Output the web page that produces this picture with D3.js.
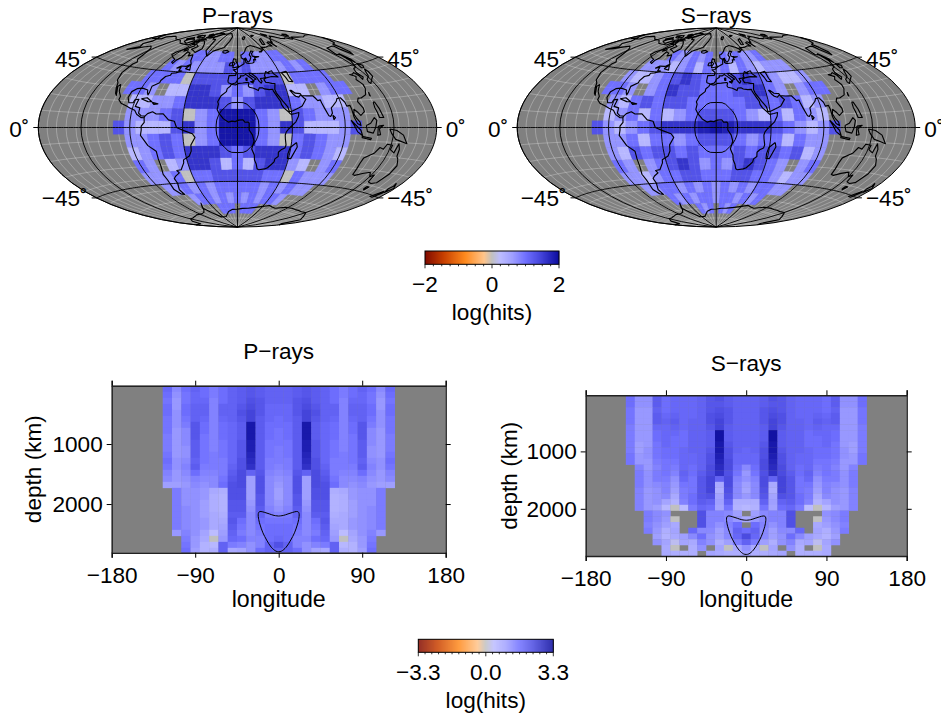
<!DOCTYPE html>
<html><head><meta charset="utf-8">
<script src="https://cdn.jsdelivr.net/npm/d3@7"></script>
<style>html,body{margin:0;padding:0;background:#fff;overflow:hidden}svg{display:block}text{font-family:"Liberation Sans",Arial,sans-serif;fill:#000}</style>
</head><body><svg id="c" width="941" height="717"></svg>
<script>
const _ = null;
// Map hit counts, log10, rows run north to south, each row centred on lon 0 with 10 degree cells
const mapLats = [60,50,40,30,20,10,0,-10,-20,-30,-40,-50,-60,-70];
const pMap = [
[1,1,.7,.7,1,1,_,1,1,.7,.7,1,1],
[1,.7,1,.7,.7,.7,.7,1.3,1,1.3,.7,.7,.7,.7,1,.7,1],
[1,1,1,1,0,1.3,1.3,1.3,1.3,1.3,1.3,1.3,1.3,1.3,0,1,1,1,1],
[1,1,.7,_,.3,.3,1.6,1.6,1.3,.7,1,.7,1.3,1.6,1.6,.3,.3,_,.7,1,1],
[.3,.3,.7,.7,1,1.6,1.6,1.6,1.3,.7,1.3,1.6,1.6,1.6,1,.7,.7,.3,.3],
[.7,.7,.7,1,1.3,0,.7,1,1.9,1.9,1.9,1,.7,0,1.3,1,.7,.7,.7],
[1.3,.7,.3,.3,.3,1.3,1.6,.7,1,1.9,1.9,1.9,1,.7,1.6,1.3,.3,.3,.3,.7,1.3],
[.7,.7,1,1.3,1,0,.7,1,1.9,1.9,1.9,1,.7,0,1,1.3,1,.7,.7],
[.3,.7,1,1.3,1,1.6,1.6,1.6,1.3,1,1.3,1.6,1.6,1.6,1,1.3,1,.7,.3],
[1,.7,_,.3,.7,1.6,1.6,1.3,.3,1,.3,1.3,1.6,1.6,.7,.3,_,.7,1],
[.7,.7,.7,1,0,1,1,1.3,1.3,1.3,1.3,1.3,1,1,0,1,.7,.7,.7],
[.7,.7,1,.7,1,.7,1,1,1,1,1,.7,1,.7,1,.7,.7],
[.7,1,1,.7,1,.7,1,.7,1,.7,1,1,.7],
[1,1,1,_,1,1,1]
];
const sMap = [
[1,.7,.7,1,.7,1,_,1,.7,1,.7,.7,1],
[.7,.7,.7,.3,.7,1,.3,1,.7,1,.3,1,.7,.3,.7,.7,.7],
[.7,.3,.3,.7,1,1.3,1.6,1.3,1,1,1,1.3,1.6,1.3,1,.7,.3,.3,.7],
[1,1,.7,_,.7,1,1.6,1.3,1.3,1,1,1,1.3,1.3,1.6,1,.7,_,.7,1,1],
[.7,.3,1,1.3,1,1.3,1.3,1,1,1,1,1,1.3,1.3,1,1.3,1,.3,.7],
[.3,.7,1,.3,1,.3,.7,1,1.3,1.3,1.3,1,.7,.3,1,.3,1,.7,.3],
[1.3,.7,.3,.7,1,1.3,1.6,1.6,1.6,1.8,1.9,1.8,1.6,1.6,1.6,1.3,1,.7,.3,.7,1.3],
[.7,.7,1,.3,1,1,.7,1,1.3,1.3,1.3,1,.7,1,1,.3,1,.7,.7],
[.7,.3,1.3,1,1.3,1.3,1,1.3,1,1,1,1.3,1,1.3,1.3,1,1.3,.3,.7],
[1,.7,_,.7,1,1.3,1.6,1.3,.7,1,.7,1.3,1.6,1.3,1,.7,_,.7,1],
[.7,.7,.3,.7,1,1,1.3,1.3,1,1,1,1.3,1.3,1,1,.7,.3,.7,.7],
[.7,.7,1,1,.7,1,.7,1,.7,1,.7,1,.7,1,1,.7,.7],
[1,.7,1,.7,1,1,.7,1,1,.7,1,.7,1],
[1,.7,1,_,1,.7,1]
];
// Section hit counts, log10, rows from the surface down in 100 km steps, each row centred on lon 0
const pSection = [
[1.8,1.3,1.7,1.9,1.7,1.5,1.7,1.9,2.0,2.1,2.0,1.9,1.9,1.9,2.0,2.1,2.0,1.9,1.7,1.5,1.7,1.9,1.7,1.3,1.8],
[1.7,1.2,1.6,1.8,1.7,1.5,1.7,1.9,2.0,2.1,2.0,1.9,1.9,1.9,2.0,2.1,2.0,1.9,1.7,1.5,1.7,1.8,1.6,1.2,1.7],
[1.6,1.1,1.6,1.8,1.8,1.4,1.7,1.9,2.0,2.2,2.1,1.9,1.9,1.9,2.1,2.2,2.0,1.9,1.7,1.4,1.8,1.8,1.6,1.1,1.6],
[1.7,1.1,1.7,1.9,1.9,1.4,1.9,1.9,2.1,2.3,2.1,1.8,1.8,1.8,2.1,2.3,2.1,1.9,1.9,1.4,1.9,1.9,1.7,1.1,1.7],
[1.7,1.2,1.7,1.9,1.9,1.4,1.9,1.9,2.2,2.4,2.1,1.8,1.8,1.8,2.1,2.4,2.2,1.9,1.9,1.4,1.9,1.9,1.7,1.2,1.7],
[1.6,1.2,1.6,1.9,1.8,1.4,1.8,1.9,2.1,2.4,2.0,1.8,1.7,1.8,2.0,2.4,2.1,1.9,1.8,1.4,1.8,1.9,1.6,1.2,1.6],
[1.6,1.2,1.5,2.1,1.7,1.4,1.7,1.8,2.0,3.1,2.0,1.7,1.7,1.7,2.0,3.1,2.0,1.8,1.7,1.4,1.7,2.1,1.5,1.2,1.6],
[1.6,1.1,1.3,2.1,1.7,1.4,1.7,1.8,2.0,3.1,2.0,1.7,1.6,1.7,2.0,3.1,2.0,1.8,1.7,1.4,1.7,2.1,1.3,1.1,1.6],
[1.5,1.1,1.3,2.1,1.6,1.4,1.7,1.8,2.0,3.1,2.0,1.7,1.6,1.7,2.0,3.1,2.0,1.8,1.7,1.4,1.6,2.1,1.3,1.1,1.5],
[1.5,1.1,1.3,2.0,1.6,1.4,1.6,1.8,2.1,3.0,2.0,1.6,1.6,1.6,2.0,3.0,2.1,1.8,1.6,1.4,1.6,2.0,1.3,1.1,1.5],
[1.5,1.1,1.2,2.0,1.6,1.4,1.6,1.8,2.1,3.0,2.0,1.6,1.5,1.6,2.0,3.0,2.1,1.8,1.6,1.4,1.6,2.0,1.2,1.1,1.5],
[1.6,1.1,1.2,2.0,1.6,1.5,1.6,1.8,2.1,2.9,2.0,1.6,1.5,1.6,2.0,2.9,2.1,1.8,1.6,1.5,1.6,2.0,1.2,1.1,1.6],
[1.7,1.2,1.3,1.9,1.6,1.5,1.5,1.8,2.2,2.8,2.0,1.5,1.5,1.5,2.0,2.8,2.2,1.8,1.5,1.5,1.6,1.9,1.3,1.2,1.7],
[1.6,1.2,1.4,2.0,1.5,1.5,1.5,1.9,2.2,2.7,2.0,1.5,1.4,1.5,2.0,2.7,2.2,1.9,1.5,1.5,1.5,2.0,1.4,1.2,1.6],
[1.4,1.1,1.3,1.7,1.4,1.4,1.5,2.0,2.3,1.9,2.1,1.4,1.3,1.4,2.1,1.9,2.3,2.0,1.5,1.4,1.4,1.7,1.3,1.1,1.4],
[1.3,1.1,1.2,1.4,1.3,1.3,1.6,2.1,2.3,1.0,2.2,1.3,1.2,1.3,2.2,1.0,2.3,2.1,1.6,1.3,1.3,1.4,1.2,1.1,1.3],
[1.0,1.0,1.1,1.3,1.2,1.3,1.7,2.2,2.3,1.0,2.2,1.3,1.1,1.3,2.2,1.0,2.3,2.2,1.7,1.3,1.2,1.3,1.1,1.0,1.0],
[1.5,1.2,1.2,1.1,.8,.7,2.2,2.2,1.0,2.2,1.3,1.0,1.3,2.2,1.0,2.2,2.2,.7,.8,1.1,1.2,1.2,1.5],
[1.5,1.2,1.2,1.1,.7,.6,2.2,2.2,1.0,2.1,1.3,1.0,1.3,2.1,1.0,2.2,2.2,.6,.7,1.1,1.2,1.2,1.5],
[1.5,1.2,1.2,1.0,.7,.6,2.1,2.1,1.1,2.1,1.3,1.1,1.3,2.1,1.1,2.1,2.1,.6,.7,1.0,1.2,1.2,1.5],
[1.5,1.3,1.2,1.0,.7,.6,2.1,2.1,1.2,2.0,1.4,1.2,1.4,2.0,1.2,2.1,2.1,.6,.7,1.0,1.2,1.3,1.5],
[1.5,1.3,1.2,1.0,.8,.7,2.0,2.0,1.3,1.9,1.5,1.4,1.5,1.9,1.3,2.0,2.0,.7,.8,1.0,1.2,1.3,1.5],
[1.5,1.3,1.2,1.1,.8,.8,2.1,1.7,1.3,1.7,1.6,1.6,1.6,1.7,1.3,1.7,2.1,.8,.8,1.1,1.2,1.3,1.5],
[1.5,1.3,1.2,1.1,.8,.9,2.0,1.6,1.3,1.6,1.7,1.7,1.7,1.6,1.3,1.6,2.0,.9,.8,1.1,1.2,1.3,1.5],
[1.1,1.4,1.2,.9,.4,1.0,1.9,1.5,1.3,1.5,1.7,1.7,1.7,1.5,1.3,1.5,1.9,1.0,.4,.9,1.2,1.4,1.1],
[1.5,1.1,.8,.0,1.1,1.8,1.7,1.4,1.4,1.7,1.8,1.7,1.4,1.4,1.7,1.8,1.1,.0,.8,1.1,1.5],
[1.6,1.1,.6,.5,1.9,1.5,1.4,1.2,1.4,1.9,2.2,1.9,1.4,1.2,1.4,1.5,1.9,.5,.6,1.1,1.6],
[1.7,1.0,.6,.7,1.9,.8,.9,1.2,1.7,1.9,1.9,1.9,1.7,1.2,.9,.8,1.9,.7,.6,1.0,1.7]
];
const sSection = [
[1.7,1.2,1.2,2.0,1.7,1.8,1.8,1.8,1.9,2.1,2.2,2.0,1.9,1.9,1.9,2.0,2.2,2.1,1.9,1.8,1.8,1.8,1.7,2.0,1.2,1.2,1.7],
[1.7,1.2,1.2,2.0,1.7,1.8,1.8,1.8,1.9,2.1,2.1,2.0,1.9,1.9,1.9,2.0,2.1,2.1,1.9,1.8,1.8,1.8,1.7,2.0,1.2,1.2,1.7],
[1.6,1.1,1.1,1.9,1.7,1.8,1.8,1.8,1.9,2.1,2.2,2.1,1.9,1.9,1.9,2.1,2.2,2.1,1.9,1.8,1.8,1.8,1.7,1.9,1.1,1.1,1.6],
[1.6,1.1,1.1,2.0,1.8,1.9,1.8,1.8,1.9,2.2,2.3,2.1,1.9,1.9,1.9,2.1,2.3,2.2,1.9,1.8,1.8,1.9,1.8,2.0,1.1,1.1,1.6],
[1.6,1.1,1.1,2.0,1.9,2.0,1.8,1.9,1.9,2.2,2.4,2.1,1.9,1.9,1.9,2.1,2.4,2.2,1.9,1.9,1.8,2.0,1.9,2.0,1.1,1.1,1.6],
[1.5,1.1,1.1,1.8,1.8,1.9,1.8,1.9,1.9,2.1,2.4,2.0,1.9,1.9,1.9,2.0,2.4,2.1,1.9,1.9,1.8,1.9,1.8,1.8,1.1,1.1,1.5],
[1.5,1.1,1.1,1.7,1.8,1.8,1.7,1.9,1.9,2.0,3.2,2.0,1.9,1.9,1.9,2.0,3.2,2.0,1.9,1.9,1.7,1.8,1.8,1.7,1.1,1.1,1.5],
[1.5,1.1,1.1,1.7,1.8,1.7,1.7,1.9,1.9,2.0,3.2,2.0,1.9,1.9,1.9,2.0,3.2,2.0,1.9,1.9,1.7,1.7,1.8,1.7,1.1,1.1,1.5],
[1.5,1.0,1.1,1.6,1.8,1.7,1.7,1.9,1.9,2.0,3.1,2.1,1.9,1.9,1.9,2.1,3.1,2.0,1.9,1.9,1.7,1.7,1.8,1.6,1.1,1.0,1.5],
[1.5,1.0,1.2,1.6,1.7,1.7,1.8,1.9,1.9,2.1,3.1,2.2,1.9,1.8,1.9,2.2,3.1,2.1,1.9,1.9,1.8,1.7,1.7,1.6,1.2,1.0,1.5],
[1.6,1.1,1.2,1.6,1.7,1.7,1.8,1.8,1.9,2.2,3.0,2.2,1.8,1.8,1.8,2.2,3.0,2.2,1.9,1.8,1.8,1.7,1.7,1.6,1.2,1.1,1.6],
[1.6,1.1,1.1,1.5,1.6,1.6,1.8,1.8,1.9,2.2,2.9,2.3,1.8,1.8,1.8,2.3,2.9,2.2,1.9,1.8,1.8,1.6,1.6,1.5,1.1,1.1,1.6],
[1.4,1.1,1.4,1.6,1.5,1.8,1.7,1.9,2.3,2.8,2.3,1.7,1.3,1.7,2.3,2.8,2.3,1.9,1.7,1.8,1.5,1.6,1.4,1.1,1.4],
[1.5,1.2,1.5,1.6,1.4,1.9,1.7,2.0,2.3,2.7,2.2,1.6,1.1,1.6,2.2,2.7,2.3,2.0,1.7,1.9,1.4,1.6,1.5,1.2,1.5],
[1.5,1.2,1.5,1.5,1.2,1.8,1.6,2.1,2.4,1.9,2.3,1.4,1.2,1.4,2.3,1.9,2.4,2.1,1.6,1.8,1.2,1.5,1.5,1.2,1.5],
[1.5,1.2,1.3,1.4,1.1,1.6,1.6,2.1,2.4,.8,2.3,1.3,1.0,1.3,2.3,.8,2.4,2.1,1.6,1.6,1.1,1.4,1.3,1.2,1.5],
[1.4,1.1,1.2,1.4,1.0,1.5,1.6,2.1,2.4,.7,2.2,1.3,.9,1.3,2.2,.7,2.4,2.1,1.6,1.5,1.0,1.4,1.2,1.1,1.4],
[1.4,1.1,1.2,1.3,.8,1.5,1.7,2.1,2.2,.9,2.1,1.3,1.1,1.3,2.1,.9,2.2,2.1,1.7,1.5,.8,1.3,1.2,1.1,1.4],
[1.4,1.1,1.2,.9,.6,1.4,1.7,2.0,1.9,1.0,1.9,.7,.7,.7,1.9,1.0,1.9,2.0,1.7,1.4,.6,.9,1.2,1.1,1.4],
[1.4,1.1,1.0,.5,.0,.4,1.5,1.8,1.7,.9,1.6,.6,.5,.6,1.6,.9,1.7,1.8,1.5,.4,.0,.5,1.0,1.1,1.4],
[1.5,1.3,1.2,_,_,_,2.2,1.4,1.4,1.3,1.0,_,1.0,1.3,1.4,1.4,2.2,_,_,_,1.2,1.3,1.5],
[1.5,1.3,1.1,.0,_,_,2.2,1.4,1.4,1.3,1.1,.8,1.1,1.3,1.4,1.4,2.2,_,_,.0,1.1,1.3,1.5],
[1.4,1.2,1.0,.8,_,_,2.2,1.4,1.2,1.4,1.7,_,1.7,1.4,1.2,1.4,2.2,_,_,.8,1.0,1.2,1.4],
[1.5,1.1,.7,.9,_,1.8,1.3,1.3,1.0,1.3,1.9,1.7,1.9,1.3,1.0,1.3,1.3,1.8,_,.9,.7,1.1,1.5],
[1.0,.6,.8,1.0,1.3,1.7,1.2,1.0,1.3,1.8,2.3,1.8,1.3,1.0,1.2,1.7,1.3,1.0,.8,.6,1.0],
[1.2,.9,.3,.9,.8,1.4,1.2,.7,1.0,1.5,1.9,1.5,1.0,.7,1.2,1.4,.8,.9,.3,.9,1.2],
[.8,.0,_,.7,1.2,_,.9,.0,.8,1.2,.8,.0,.9,_,1.2,.7,_,.0,.8],
[.8,.7,.7,.7,_,.9,.8,.7,.7,1.0,.7,.7,.8,.9,_,.7,.7,.7,.8]
];
const sectionDepthStep = 100, sectionDepthStart = 30, cellDeg = 10;
// outlines of the high density patch
const patchMap = [[0,20.5],[5,20.3],[8,19],[11,16],[13.5,13.5],[15.6,10],[17,6],[17.4,2],[17.4,-2],[17,-6],[15.6,-10],[13.5,-13.5],[11,-16],[8,-19],[5,-20.3],[0,-20.5],[-5,-20.3],[-8,-19],[-11,-16],[-13.5,-13.5],[-15.6,-10],[-17,-6],[-17.4,-2],[-17.4,2],[-17,6],[-15.6,10],[-13.5,13.5],[-11,16],[-8,19],[-5,20.3],[0,20.5]];
const patchSection = [[0,2200],[5,2190],[10,2165],[15,2140],[19,2125],[21,2130],[22,2160],[21.5,2260],[20,2350],[17,2480],[13,2600],[8,2720],[3,2785],[0,2795],[-3,2785],[-8,2720],[-13,2600],[-17,2480],[-20,2350],[-21.5,2260],[-22,2160],[-21,2130],[-19,2125],[-15,2140],[-10,2165],[-5,2190],[0,2200]];
// coastlines
const africa=[[-5.9,35.8],[-2,35.1],[1,36.5],[5,36.8],[10,37.3],[11,36.9],[10.2,34.3],[11,33.2],[15,32.3],[19,30.3],[20.1,32.5],[23,32.6],[25,31.6],[29,31],[32.3,31.2],[32.6,29.9],[33.7,27.5],[35.5,24],[37.2,21],[37.4,18.7],[39,15.8],[43.1,12],[43.3,11.5],[44.5,10.5],[48,11.2],[51.2,11.9],[50.5,9],[48,4.5],[45,1.8],[42,-1],[40,-3.5],[39.2,-6],[39.5,-9],[40.6,-14],[40,-16.5],[37,-18],[35,-20],[35.5,-23.5],[33,-25.5],[32.8,-28],[31,-30],[28,-33],[25.5,-34],[20,-34.8],[18.4,-34],[17,-30],[15,-26.5],[14.5,-22.5],[12,-17.5],[13.7,-11],[12.2,-6],[9.5,-2],[9.5,3.5],[8.5,4.5],[6,4.3],[4.5,6.3],[1,6],[-2,4.8],[-4.5,5.2],[-7.5,4.4],[-11.5,7],[-13.5,9.5],[-15,11],[-17,14.7],[-16.2,19],[-17,21],[-14.5,26],[-10,29.5],[-9.5,32],[-6.8,34],[-5.9,35.8]];
const eurasia=[[-9,37],[-9.4,38.7],[-8.8,43.2],[-2,43.5],[-1.2,46],[-4.7,48.4],[-1.5,48.7],[1.5,50.9],[4,52],[8,53.7],[8.5,57],[10.5,57.7],[10.5,55],[12,54.2],[14,54],[19,54.4],[21,55.2],[21.3,57.4],[24,57.2],[23.5,59.2],[30,60],[25,60.2],[21.3,60.7],[21.5,63],[25.3,65],[22,65.6],[17.5,62],[18.8,59.8],[16.5,57],[14.3,55.5],[12.8,55.5],[11.2,59],[8,58],[5.2,59.3],[5,62],[7,62.5],[10,64],[12,65.5],[14,67.5],[16,68.8],[19,70],[22,70.3],[25.7,71],[31,70],[36,69],[41,67],[40,65],[35,64.5],[38,64.2],[44,66.5],[44,68.5],[50,68.3],[54,68.5],[61,69.5],[67,69],[67,72.5],[70,73],[73,73],[73,68],[75,72.5],[78,72],[81,73.5],[87,75],[93,76],[100,76.5],[104,77.7],[110,76],[113,74],[120,73],[125,73.5],[130,71],[135,71.5],[140,72.5],[150,71],[160,69.7],[170,70],[179.9,69]];
const eurasiaEast=[[179.9,65],[177,62.5],[170,60],[164,60],[162,57],[160,53],[156.7,51],[155.7,56],[158,59],[155,59.3],[143,59.3],[137,54],[141,53],[140,48],[135,43.5],[130,42.5],[127.5,39.7],[129.5,36],[126.5,34.5],[126.5,37.5],[124.5,40],[121.5,39],[118,39],[122.5,37],[119.5,35],[122,31],[121,28],[117,23.5],[111,21.5],[108,21.5],[106,19],[109,14],[109,11.5],[105,8.8],[103,11],[100,13.5],[99,10],[100.5,7],[103.4,4],[104,1.4],[101,3],[98.5,8],[98,14],[97.5,16.5],[94.5,16],[94,19],[91.5,22.5],[88,22],[86.5,20],[82,16.5],[80,15],[80,11],[78,8.5],[76.5,9],[74,15],[72.8,19],[72.5,21.5],[70,21],[69,22.5],[67,25],[61.5,25],[57,25.5],[56.3,27],[52,27.5],[49,30],[48,30],[50,26.5],[51.5,25],[54,24.2],[56.3,26],[58.8,23],[59.7,22.3],[55,17],[52,15.7],[45,12.8],[43.3,12.8],[42.5,16.5],[39,21.5],[35,28],[34.3,31],[36,36],[33,36.2],[30.5,36.8],[27.5,37],[26.3,39.5],[29,41],[35,42],[41.5,41.5],[38,44.5],[37.5,47],[33.5,46],[33.5,44.5],[30.7,46.5],[28,43],[28.5,41.2],[26,40.8],[23,40.5],[24,38],[22.8,36.5],[21,38.5],[19.5,41.5],[14.5,45.2],[12.3,45.3],[12.5,44],[16,41.8],[18.5,40],[16.5,39.5],[16,38],[14,40.7],[10.5,43],[8.5,44.3],[6,43],[3,43],[3.2,41.8],[0,40],[-0.5,38.5],[-2,36.8],[-5.5,36],[-9,37]];
const chukotka=[[-180,69],[-175,67],[-170,66],[-175,64.5],[-180,65]];
const northAmerica=[[-168,65.5],[-162,66.5],[-166,68.5],[-157,71],[-141,69.7],[-128,70],[-115,68],[-108,68],[-96,68],[-94,71.5],[-90,69],[-85,69.5],[-81.5,68],[-87,65],[-94,61],[-94.5,58.5],[-88,56.5],[-82,55],[-82,52.5],[-79,51.5],[-79,54.5],[-76.5,57],[-78,62.5],[-72,61.5],[-70,59],[-65,60.3],[-60,55],[-56,52],[-60,50],[-66,50],[-69,48],[-65,49],[-64.5,46],[-61,45.8],[-66,44],[-70,43.5],[-70,41.7],[-74,40.5],[-76,37],[-75.7,35.2],[-81,32],[-80.2,27],[-80.5,25.2],[-82,27],[-83,29],[-89,30.2],[-94,29.5],[-97.3,27],[-97.8,22.5],[-95,18.7],[-91,18.7],[-90.5,21],[-87,21.5],[-88,16],[-83.5,15],[-83.5,11],[-81,9],[-77.5,8.7],[-78,7.5],[-80.5,7.5],[-85,10],[-87.5,13],[-92,14.5],[-96,16],[-102,18],[-105.5,20.5],[-105.5,23],[-109.5,26.5],[-113,31.5],[-114.5,30],[-110,23.5],[-112,25],[-115,29],[-117.2,32.5],[-120.5,34.5],[-124,40],[-124.5,47],[-123,49],[-128,51],[-131,55],[-135,58],[-140,60],[-146,61],[-152,59],[-158,56.5],[-165,54.5],[-158,58.5],[-165,60.5],[-163,63.5],[-168,65.5]];
const southAmerica=[[-77.5,8.7],[-75.5,10.7],[-71.5,12.2],[-68,10.5],[-62,10.7],[-57,6],[-52,5],[-50,0],[-44,-2.5],[-37,-5],[-35,-8],[-39,-14],[-39.5,-19],[-42,-23],[-48,-26],[-48.7,-28.5],[-53.5,-34],[-58,-34.5],[-56.7,-36.5],[-62,-39],[-65,-41],[-65,-45],[-69,-50.5],[-68,-54.8],[-72,-54],[-75,-50],[-73,-42],[-73.5,-37],[-71,-30],[-70,-18.5],[-76,-14],[-81,-6],[-80,-2],[-80,1],[-77.5,4],[-78,7.5],[-77.5,8.7]];
const australia=[[114,-22],[113.5,-26],[115,-34.5],[118,-35],[124,-33],[131,-31.5],[135,-34.5],[138,-33],[140,-38],[145,-38.7],[150,-37.5],[153,-31],[153,-25],[149,-21],[146,-19],[145,-14.5],[142.5,-10.8],[141,-17],[136,-15],[136.5,-12],[131,-11.5],[129,-15],[125,-14],[122,-18],[114,-22]];
const antarctica=[[-180,-78],[-160,-79],[-150,-76],[-135,-74.5],[-115,-74],[-100,-73],[-85,-73],[-75,-72],[-68,-70],[-58,-63.5],[-65,-68],[-60,-73],[-50,-78],[-35,-78],[-20,-73],[-10,-71],[10,-70],[30,-69],[40,-68],[55,-66],[70,-68],[85,-66],[100,-66],[115,-66.5],[135,-66.5],[150,-69],[165,-71],[170,-77],[179.9,-78]];
const islands=[
[[-73,78],[-68,76],[-60,76],[-54,70],[-52,65],[-44,60],[-40,65],[-25,69],[-20,75],[-18,80],[-30,83.5],[-60,82],[-73,78]],
[[-80,73.5],[-70,71],[-62,66.5],[-66,62.5],[-72,64],[-78,65],[-74,68],[-85,70],[-89,73],[-80,73.5]],
[[-117,70],[-105,69],[-101,72],[-110,73.5],[-118,72],[-117,70]],
[[-125,72],[-118,74.5],[-116,73],[-120,71.5],[-125,72]],
[[-90,76.5],[-80,76.5],[-62,82.5],[-75,83],[-92,81],[-90,76.5]],
[[-96,75],[-85,75],[-80,74.6],[-92,74],[-96,75]],
[[-115,75],[-105,75],[-100,76.5],[-110,78],[-118,76.5],[-115,75]],
[[-100,73],[-95,74],[-90,72],[-97,71.5],[-100,73]],
[[-87,65.5],[-81,64],[-85,62.5],[-87,65.5]],
[[-96,80],[-88,80],[-85,78],[-92,76.5],[-96,80]],
[[-104,79],[-100,80.5],[-94,78],[-104,79]],
[[-122,76],[-116,77.5],[-112,76],[-122,76]],
[[-59,48],[-53,47],[-56,51.5],[-59,48]],
[[-24,65.5],[-18,66.3],[-14,65],[-19,63.5],[-23,64],[-24,65.5]],
[[-5.5,50],[1.2,51.2],[0,53.5],[-2,56],[-2,57.7],[-5,58.5],[-6,56],[-3,54],[-5,52],[-5.5,50]],
[[-10,52],[-6,52],[-6,55],[-9,54.5],[-10,52]],
[[52,71],[57,71],[68,76.8],[60,76],[52,71]],
[[14,77.5],[20,80],[27,80],[18,77],[14,77.5]],
[[48,80],[55,81],[62,80.5],[52,79.8],[48,80]],
[[95,79],[100,81],[105,79],[98,78],[95,79]],
[[138,75],[145,76],[150,75],[142,73.5],[138,75]],
[[49.3,-12],[50.4,-15.5],[47,-25],[44,-25],[43.5,-21],[44.5,-16],[49.3,-12]],
[[130,32],[131,34],[136,36],[140,40],[141.5,41],[142,39],[140.5,35.5],[136,33.7],[131,31],[130,32]],
[[140,42],[142,45.5],[145.5,43.5],[143,42],[140,42]],
[[142,46],[142,54],[143.5,49],[142,46]],
[[120.5,18],[122,18],[124,13],[126,7],[122,7],[120,14],[120.5,18]],
[[95.5,5.5],[104,-2],[106,-6],[101,-3],[95.5,5.5]],
[[105.5,-6.5],[114.5,-7.7],[114,-8.7],[106,-7.5],[105.5,-6.5]],
[[109,1.5],[113,3],[117,7],[119,5],[117.5,0],[115.5,-4],[110,-3],[109,1.5]],
[[120,1],[125,1.5],[121,-1],[122.5,-5],[120,-5.5],[120,1]],
[[131,-1],[138,-2],[145,-5],[150.5,-10.5],[143,-9],[138,-8],[133,-4],[131,-1]],
[[173,-35],[178.5,-38],[175,-41.5],[173,-39],[174.5,-37],[173,-35]],
[[172.5,-41],[174,-42],[171,-46],[167,-46],[172.5,-41]],
[[145,-41],[148,-41],[147,-43.5],[145.5,-43],[145,-41]],
[[80,9.5],[82,7.5],[80.5,6],[80,9.5]],
[[-85,22],[-80,23],[-74.5,20],[-78,20],[-85,22]],
[[-74,19.5],[-68.5,18.5],[-72,18],[-74,19.5]],
[[47,45],[53,46],[53,40],[54,37],[50,37.5],[49,41],[47,45]],
[[12.5,38],[15.5,38],[15,36.7],[12.5,38]],
[[8.3,41],[9.7,41],[9.5,39],[8.5,39],[8.3,41]],
[[120.3,22.7],[121.5,25],[121,22.5],[120.3,22.7]]
];
const coast={type:"MultiLineString",coordinates:[africa,eurasia,eurasiaEast,chukotka,northAmerica,southAmerica,australia,antarctica,...islands]};
// colour scale, t in -1..1
const colorT=[-1,-.72,-.4,-.12,0,.12,.3,.5,.7,.85,1];
const colorV=["#800a00","#c84000","#ff8a1e","#ffc48a","#c0c0c0","#bcbcff","#a0a0ff","#7070ff","#4a4ae0","#2a2ac0","#0c0c9c"];
const color=d3.scaleLinear().domain(colorT).range(colorV).clamp(true);
const noData="#808080";
const mapTicks=[-45,0,45];

const svg=d3.select("#c");
const fs=22.6;
function hammerRaw(l,p){const c=Math.cos(p),d=Math.sqrt(1+c*Math.cos(l/2));return [2*Math.SQRT2*c*Math.sin(l/2)/d,Math.SQRT2*Math.sin(p)/d];}

function drawMap(cx,cy,rx,rows,title){
 const proj=d3.geoProjection(hammerRaw).scale(rx/(2*Math.SQRT2)).translate([cx,cy]).precision(.2);
 const path=d3.geoPath(proj);
 const g=svg.append("g");
 const fine=d3.geoGraticule().extent([[-180,-90],[180,90]]).step([10,10])();
 g.append("path").datum({type:"Sphere"}).attr("d",path).attr("fill",noData);
 g.append("path").datum(fine).attr("d",path).attr("fill","none").attr("stroke","#fff").attr("stroke-opacity",.45).attr("stroke-width",.5);
 const cells=[];
 rows.forEach((row,i)=>{const lat=mapLats[i],n=row.length;row.forEach((v,j)=>{if(v===null)return;
   const lon=(j-(n-1)/2)*cellDeg,w=lon-5,e=lon+5,s=lat-5,nn=lat+5,ring=[];
   for(let a=w;a<=e;a+=2)ring.push([a,nn]);
   for(let a=e;a>=w;a-=2)ring.push([a,s]);
   ring.push([w,nn]);
   cells.push({type:"Polygon",coordinates:[ring],v});
 });});
 g.selectAll("path.cell").data(cells).join("path").attr("class","cell").attr("d",path)
  .attr("fill",d=>color(d.v/2)).attr("stroke",d=>color(d.v/2)).attr("stroke-width",.3);
 g.append("path").datum(fine).attr("d",path).attr("fill","none").attr("stroke","#fff").attr("stroke-opacity",.12).attr("stroke-width",.5);
 g.append("path").datum(d3.geoGraticule().extent([[-180,-90],[180,90.01]]).step([45,45])()).attr("d",path)
  .attr("fill","none").attr("stroke","#000").attr("stroke-width",.9);
 g.append("path").datum(coast).attr("d",path).attr("fill","none").attr("stroke","#000").attr("stroke-width",1.15).attr("stroke-linejoin","round");
 g.append("path").datum({type:"LineString",coordinates:patchMap}).attr("d",path).attr("fill","none").attr("stroke","#000").attr("stroke-width",1);
 g.append("path").datum({type:"Sphere"}).attr("d",path).attr("fill","none").attr("stroke","#000").attr("stroke-width",1);
 const tick=5;
 mapTicks.forEach(lat=>{
  [[-179.99,-1],[179.99,1]].forEach(([lon,sg])=>{
   const p=proj([lon,lat]);
   g.append("line").attr("x1",p[0]).attr("x2",p[0]+sg*tick).attr("y1",p[1]).attr("y2",p[1]).attr("stroke","#000").attr("stroke-width",1);
   const label=(lat<0?"\u2212"+(-lat):lat)+"\u02da";
   g.append("text").attr("x",p[0]+sg*(tick+4)).attr("y",p[1]+(lat<0?8:9.5)).attr("text-anchor",sg<0?"end":"start").attr("font-size",fs).text(label);
  });
 });
 g.append("text").attr("x",cx).attr("y",cy-104.5).attr("text-anchor","middle").attr("font-size",fs).text(title);
}
drawMap(237.5,127.5,199.2,pMap,"P\u2212rays");
drawMap(716.2,127.5,199,sMap,"S\u2212rays");

function drawSection(x0,x1,y0,y1,d0,d1,rows,title,titleY,pad,yLabX){
 const x=d3.scaleLinear().domain([-180,180]).range([x0,x1]);
 const y=d3.scaleLinear().domain([d0,d1]).range([y0,y1]);
 const id="clip"+Math.round(x0);
 svg.append("clipPath").attr("id",id).append("rect").attr("x",x0).attr("y",y0).attr("width",x1-x0).attr("height",y1-y0);
 const g=svg.append("g");
 g.append("rect").attr("x",x0).attr("y",y0).attr("width",x1-x0).attr("height",y1-y0).attr("fill",noData);
 const cg=g.append("g").attr("clip-path",`url(#${id})`);
 rows.forEach((row,r)=>{const n=row.length;
  row.forEach((v,j)=>{ if(v===null)return;
   const lon=(j-(n-1)/2)*cellDeg;
   const c=color(v/3.3);
   cg.append("rect").attr("x",x(lon-5)).attr("width",x(lon+5)-x(lon-5)+.3)
     .attr("y",y(sectionDepthStart+r*sectionDepthStep)).attr("height",y(sectionDepthStart+(r+1)*sectionDepthStep)-y(sectionDepthStart+r*sectionDepthStep)+.3)
     .attr("fill",c);
  });
 });
 const line=d3.line().x(d=>x(d[0])).y(d=>y(d[1])).curve(d3.curveCatmullRom);
 cg.append("path").attr("d",line(patchSection)).attr("fill","none").attr("stroke","#000").attr("stroke-width",1);
 const xt=[-180,-90,0,90,180], yt=[1000,2000], fmt=d=>d<0?"\u2212"+(-d):""+d;
 const ax=(a)=>{a.selectAll("path").attr("stroke-width",1.4).attr("stroke","#222");a.selectAll("line").attr("stroke","#000");a.selectAll("text").attr("font-size",fs).attr("font-family","Liberation Sans").attr("fill","#000");};
 g.append("g").attr("transform",`translate(0,${y1})`).call(d3.axisBottom(x).tickValues(xt).tickFormat(fmt).tickSizeInner(5).tickSizeOuter(5).tickPadding(pad)).call(ax);
 g.append("g").attr("transform",`translate(0,${y0})`).call(d3.axisTop(x).tickValues(xt).tickFormat("").tickSizeInner(5).tickSizeOuter(5)).call(ax);
 g.append("g").attr("transform",`translate(${x0},0)`).call(d3.axisLeft(y).tickValues(yt).tickFormat(d3.format("d")).tickSizeInner(5).tickSizeOuter(0).tickPadding(4)).call(ax);
 g.append("g").attr("transform",`translate(${x1},0)`).call(d3.axisRight(y).tickValues(yt).tickFormat("").tickSizeInner(5).tickSizeOuter(0)).call(ax);
 g.append("text").attr("x",(x0+x1)/2).attr("y",titleY).attr("text-anchor","middle").attr("font-size",fs).text(title);
 g.append("text").attr("x",(x0+x1)/2).attr("y",607).attr("text-anchor","middle").attr("font-size",23.2).text("longitude");
 g.append("text").attr("transform",`translate(${yLabX},${(y0+y1)/2}) rotate(-90)`).attr("text-anchor","middle").attr("font-size",fs).text("depth (km)");
}
drawSection(111.7,445.7,385.7,552.7,28,2811,pSection,"P\u2212rays",359,9.5,41);
drawSection(585.7,906.7,395.3,556,23,2822,sSection,"S\u2212rays",371,8.5,517);

function drawBar(x0,x1,y0,y1,vmax,major,minorN,fmt,labY,unitY){
 const x=d3.scaleLinear().domain([-vmax,vmax]).range([x0,x1]);
 const g=svg.append("g");
 const w=Math.round(x1-x0);
 g.selectAll("rect").data(d3.range(w)).join("rect")
  .attr("x",i=>x0+i).attr("y",y0).attr("width",1.2).attr("height",y1-y0)
  .attr("fill",i=>color(x.invert(x0+i+.5)/vmax));
 g.append("rect").attr("x",x0).attr("y",y0).attr("width",x1-x0).attr("height",y1-y0).attr("fill","none").attr("stroke","#000").attr("stroke-width",1);
 const minor=d3.range(minorN+1).map(i=>-vmax+i*2*vmax/minorN);
 g.selectAll("line.m").data(minor).join("line").attr("class","m").attr("x1",d=>x(d)).attr("x2",d=>x(d)).attr("y1",y1).attr("y2",d=>major.some(m=>Math.abs(m-d)<1e-6)?y1+4:y1+2).attr("stroke","#000").attr("stroke-width",.8);
 major.forEach(m=>g.append("text").attr("x",x(m)).attr("y",labY).attr("text-anchor","middle").attr("font-size",fs).text(fmt(m)));
 g.append("text").attr("x",(x0+x1)/2).attr("y",unitY).attr("text-anchor","middle").attr("font-size",fs).text("log(hits)");
}
drawBar(425,559,251,264.3,2,[-2,0,2],16,d=>d<0?"\u2212"+(-d):""+d,291.5,319.5);
drawBar(418.3,553.3,639.3,652.3,3.3,[-3.3,0,3.3],20,d=>(d<0?"\u2212":"")+Math.abs(d).toFixed(1),680,707.5);
</script></body></html>
